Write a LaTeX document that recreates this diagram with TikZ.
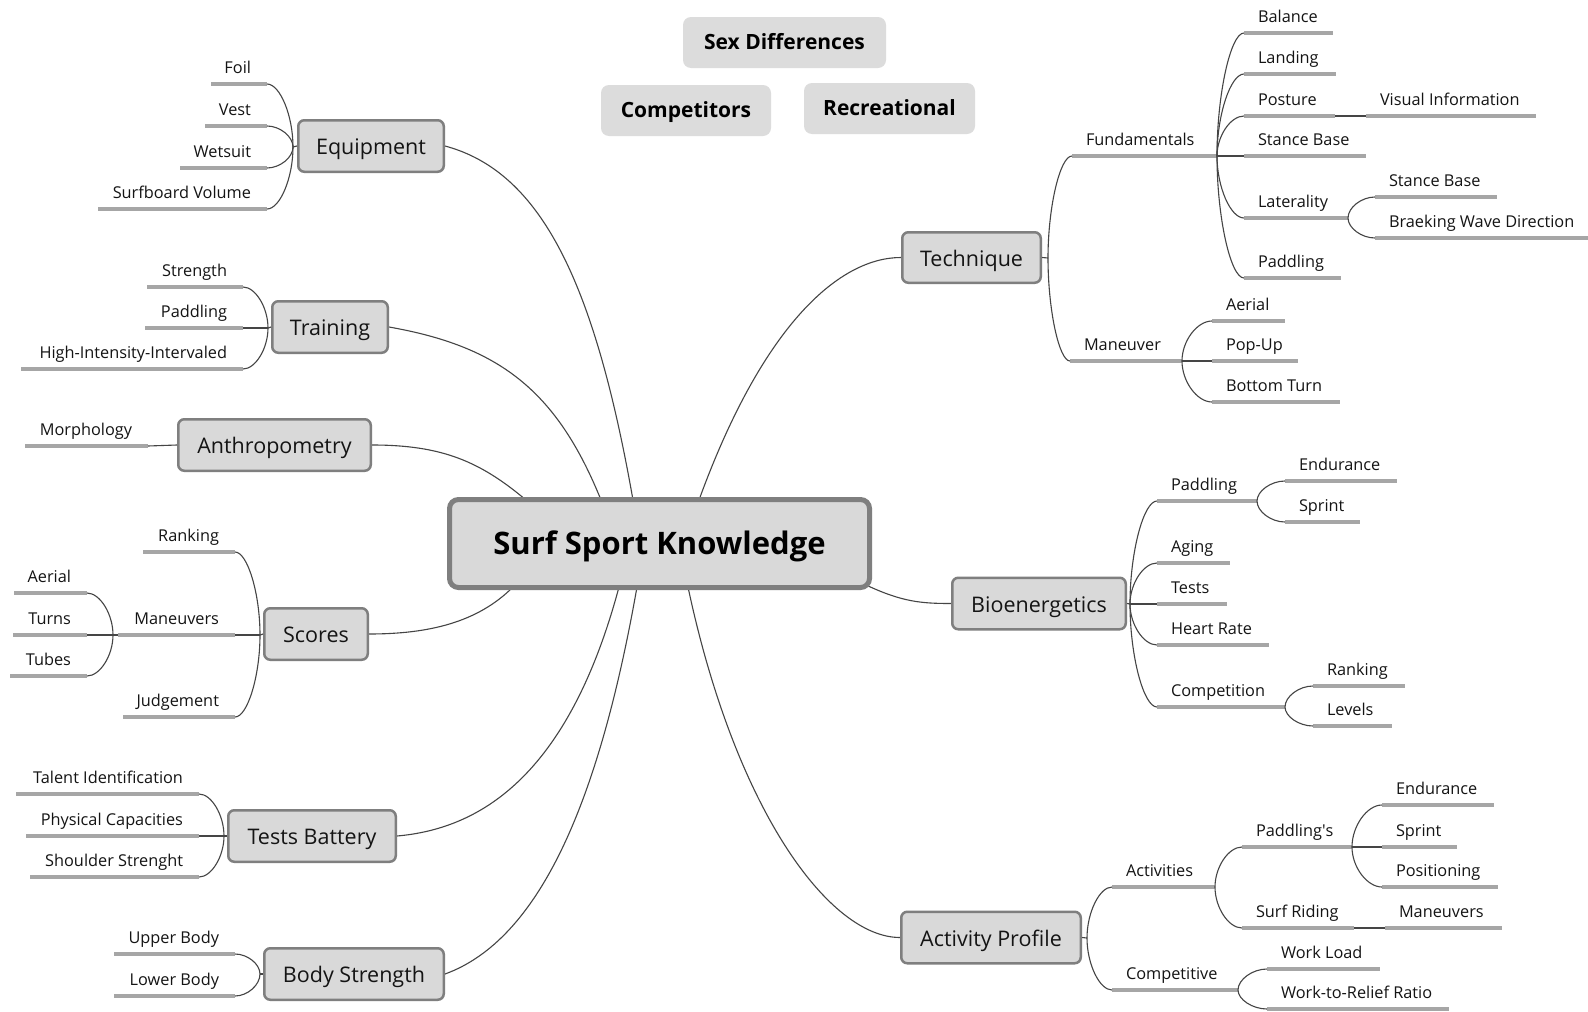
\documentclass[tikz,border=0pt]{standalone}
\usepackage{fontspec}
\setmainfont{Open Sans}
\usetikzlibrary{calc,backgrounds}
\definecolor{boxfill}{HTML}{D9D9D9}
\definecolor{boxline}{HTML}{7F7F7F}
\definecolor{floatfill}{HTML}{DCDCDC}
\definecolor{ulcol}{HTML}{A6A6A6}
\definecolor{conncol}{HTML}{454545}
\definecolor{txtcol}{HTML}{141414}
\newcommand{\fLeaf}{\fontsize{16.3}{19}\selectfont}
\newcommand{\fMain}{\fontsize{21.5}{26}\selectfont}
\newcommand{\fCenter}{\bfseries\fontsize{31}{37}\selectfont}
\newcommand{\fFloat}{\bfseries\fontsize{21}{25}\selectfont}
% right-side leaf: name, x start, y line, underline length, text
\newcommand{\leafR}[5]{%
  \node[leafr] (#1) at (#2,-#3) {#5};
  \coordinate (#1E) at ($(#1.south west)+(#4,0)$);
  \draw[uline] (#1.south west) -- (#1E);}
% left-side leaf: name, x end, y line, underline length, text
\newcommand{\leafL}[5]{%
  \node[leafl] (#1) at (#2,-#3) {#5};
  \coordinate (#1E) at ($(#1.south east)+(-#4,0)$);
  \draw[uline] (#1.south east) -- (#1E);}
\newcommand{\fanR}[2]{\draw[conn] (#1) .. controls ($(#1)!0.5!(#1 |- #2.south west)$) and ($(#2.south west)!0.5!(#1 |- #2.south west)$) .. (#2.south west);}
\newcommand{\fanL}[2]{\draw[conn] (#1) .. controls ($(#1)!0.5!(#1 |- #2.south east)$) and ($(#2.south east)!0.5!(#1 |- #2.south east)$) .. (#2.south east);}
\begin{document}
\begin{tikzpicture}[x=1pt,y=1pt,
  mainbox/.style={draw=boxline, line width=2.5pt, fill=boxfill, rounded corners=6pt,
    font=\fMain, text=txtcol, inner sep=0pt, minimum height=51.5pt,
    text height=17pt, text depth=0pt},
  centerbox/.style={draw=boxline, line width=5pt, fill=boxfill, rounded corners=9pt,
    font=\fCenter, text=black, inner sep=0pt, minimum width=420pt, minimum height=88pt,
    text height=22pt, text depth=0pt},
  floatbox/.style={fill=floatfill, rounded corners=8pt, font=\fFloat, text=black,
    inner sep=0pt, minimum height=51pt, text height=14pt, text depth=0pt},
  leafr/.style={anchor=south west, inner xsep=14pt, inner ysep=0pt, outer sep=0pt,
    text height=12pt, text depth=11pt, font=\fLeaf, text=txtcol},
  leafl/.style={anchor=south east, inner xsep=16pt, inner ysep=0pt, outer sep=0pt,
    text height=12pt, text depth=11pt, font=\fLeaf, text=txtcol},
  conn/.style={draw=conncol, line width=1.1pt},
  uline/.style={draw=ulcol, line width=3.5pt}]
\useasboundingbox (0,0) rectangle (1588,-1012);

% floating labels
\node[floatbox, minimum width=203pt] (sexdiff) at (784.5,-42.5) {Sex Differences};
\node[floatbox, minimum width=170pt] (compet0) at (686,-110.5) {Competitors};
\node[floatbox, minimum width=171pt] (recre) at (889.5,-108.5) {Recreational};

% central and main nodes
\node[centerbox] (center) at (659.5,-543.5) {Surf Sport Knowledge};
\node[mainbox, minimum width=145.5pt] (equip) at (371,-146) {Equipment};
\node[mainbox, minimum width=115.5pt] (train) at (330,-327) {Training};
\node[mainbox, minimum width=192.5pt] (anthro) at (274.5,-445) {Anthropometry};
\node[mainbox, minimum width=103.5pt] (scores) at (316,-634) {Scores};
\node[mainbox, minimum width=167.5pt] (tests) at (312,-836) {Tests Battery};
\node[mainbox, minimum width=179.5pt] (body) at (354,-974) {Body Strength};
\node[mainbox, minimum width=138.5pt, minimum height=50.5pt] (tech) at (971.5,-257.5) {Technique};
\node[mainbox, minimum width=173.5pt] (bio) at (1039,-603.5) {Bioenergetics};
\node[mainbox, minimum width=179.5pt] (actp) at (991,-937.5) {Activity Profile};

% attach points on the central node
\coordinate (cEq) at (633,-500);
\coordinate (cTr) at (601,-500);
\coordinate (cAn) at (526,-500);
\coordinate (cTe) at (699,-500);
\coordinate (cSc) at (513,-587);
\coordinate (cTB) at (619,-587);
\coordinate (cBS) at (637,-587);
\coordinate (cAP) at (688,-587);
\coordinate (cBi) at (866,-585);

\begin{scope}[on background layer]
\fill[white] (0,0) rectangle (1588,-1012);
\draw[conn] (equip.east) to[out=-15,in=100,out distance=100pt,in distance=220pt] (cEq);
\draw[conn] (train.east) to[out=-10,in=112,out distance=110pt,in distance=120pt] (cTr);
\draw[conn] (anthro.east) to[out=0,in=140,out distance=70pt,in distance=60pt] (cAn);
\draw[conn] (cTe) to[out=70,in=180,out distance=190pt,in distance=60pt] (tech.west);
\draw[conn] (scores.east) to[out=0,in=-135,out distance=60pt,in distance=50pt] (cSc);
\draw[conn] (tests.east) to[out=5,in=-105,out distance=80pt,in distance=200pt] (cTB);
\draw[conn] (body.east) to[out=20,in=-100,out distance=100pt,in distance=220pt] (cBS);
\draw[conn] (cAP) to[out=-78,in=180,out distance=230pt,in distance=70pt] (actp.west);
\draw[conn] (cBi) to[out=-25,in=180,out distance=40pt,in distance=30pt] (bio.west);
\end{scope}

% ---------- Equipment ----------
\leafL{foil}{267}{84}{56}{Foil}
\leafL{vest}{267}{126}{62}{Vest}
\leafL{wets}{267}{168}{87}{Wetsuit}
\leafL{surfv}{267}{209}{169}{Surfboard Volume}
\coordinate (jEq) at (293,-147);
\draw[conn] (equip.west) -- (jEq);
\fanL{jEq}{foil}\fanL{jEq}{vest}\fanL{jEq}{wets}\fanL{jEq}{surfv}

% ---------- Training ----------
\leafL{strength}{243}{287}{96}{Strength}
\leafL{trpad}{243}{328}{98}{Paddling}
\leafL{hiit}{243}{369}{222}{High-Intensity-Intervaled}
\coordinate (jTr) at (268,-328);
\draw[conn] (train.west) -- (jTr);
\fanL{jTr}{strength}\fanL{jTr}{trpad}\fanL{jTr}{hiit}

% ---------- Anthropometry ----------
\leafL{morph}{148}{446}{123}{Morphology}
\draw[conn] (anthro.west) -- (morph.south east);

% ---------- Scores ----------
\leafL{scrank}{235}{552}{92}{Ranking}
\leafL{scman}{235}{635}{117}{Maneuvers}
\leafL{scjudg}{235}{717}{112}{Judgement}
\coordinate (jSc) at (260,-635);
\draw[conn] (scores.west) -- (jSc);
\fanL{jSc}{scrank}\fanL{jSc}{scman}\fanL{jSc}{scjudg}
\leafL{aer}{87}{593}{73}{Aerial}
\leafL{turns}{87}{635}{74}{Turns}
\leafL{tubes}{87}{676}{77}{Tubes}
\coordinate (jMan) at (113,-635);
\draw[conn] (scmanE) -- (jMan);
\fanL{jMan}{aer}\fanL{jMan}{turns}\fanL{jMan}{tubes}

% ---------- Tests Battery ----------
\leafL{talent}{199}{794}{183}{Talent Identification}
\leafL{phys}{199}{836}{173}{Physical Capacities}
\leafL{should}{199}{877}{169}{Shoulder Strenght}
\coordinate (jTB) at (224,-836);
\draw[conn] (tests.west) -- (jTB);
\fanL{jTB}{talent}\fanL{jTB}{phys}\fanL{jTB}{should}

% ---------- Body Strength ----------
\leafL{upper}{235}{954}{121}{Upper Body}
\leafL{lower}{235}{996}{121}{Lower Body}
\coordinate (jBS) at (260,-974);
\draw[conn] (body.west) -- (jBS);
\fanL{jBS}{upper}\fanL{jBS}{lower}

% ---------- Technique ----------
\leafR{fund}{1072}{156}{145}{Fundamentals}
\leafR{tman}{1070}{361}{112}{Maneuver}
\coordinate (jTe) at (1048,-258);
\draw[conn] (tech.east) -- (jTe);
\fanR{jTe}{fund}\fanR{jTe}{tman}
\leafR{bal}{1244}{33}{89}{Balance}
\leafR{land}{1244}{74}{92}{Landing}
\leafR{post}{1244}{116}{91}{Posture}
\leafR{stance}{1244}{156}{122}{Stance Base}
\leafR{later}{1244}{218}{104}{Laterality}
\leafR{tpad}{1244}{278}{97}{Paddling}
\fanR{fundE}{bal}\fanR{fundE}{land}\fanR{fundE}{post}
\fanR{fundE}{stance}\fanR{fundE}{later}\fanR{fundE}{tpad}
\leafR{visual}{1366}{116}{170}{Visual Information}
\draw[conn] (postE) -- (visual.south west);
\leafR{stancetwo}{1375}{197}{122}{Stance Base}
\leafR{braek}{1375}{238}{220}{Braeking Wave Direction}
\fanR{laterE}{stancetwo}\fanR{laterE}{braek}
\leafR{taer}{1212}{321}{73}{Aerial}
\leafR{popup}{1212}{361}{86}{Pop-Up}
\leafR{bottom}{1212}{402}{128}{Bottom Turn}
\fanR{tmanE}{taer}\fanR{tmanE}{popup}\fanR{tmanE}{bottom}

% ---------- Bioenergetics ----------
\leafR{bpad}{1157}{501}{100}{Paddling}
\leafR{aging}{1157}{563}{73}{Aging}
\leafR{btests}{1157}{604}{70}{Tests}
\leafR{heart}{1157}{645}{112}{Heart Rate}
\leafR{bcomp}{1157}{707}{128}{Competition}
\coordinate (jBi) at (1130,-604);
\draw[conn] (bio.east) -- (jBi);
\fanR{jBi}{bpad}\fanR{jBi}{aging}\fanR{jBi}{btests}\fanR{jBi}{heart}\fanR{jBi}{bcomp}
\leafR{bend}{1285}{481}{112}{Endurance}
\leafR{bsprint}{1285}{522}{75}{Sprint}
\fanR{bpadE}{bend}\fanR{bpadE}{bsprint}
\leafR{brank}{1313}{686}{92}{Ranking}
\leafR{levels}{1313}{726}{79}{Levels}
\fanR{bcompE}{brank}\fanR{bcompE}{levels}

% ---------- Activity Profile ----------
\leafR{activ}{1112}{887}{103}{Activities}
\leafR{compet}{1112}{990}{126}{Competitive}
\coordinate (jAP) at (1087,-938);
\draw[conn] (actp.east) -- (jAP);
\fanR{jAP}{activ}\fanR{jAP}{compet}
\leafR{pads}{1242}{847}{110}{Paddling\textquotesingle s}
\leafR{surfr}{1242}{928}{112}{Surf Riding}
\fanR{activE}{pads}\fanR{activE}{surfr}
\leafR{aend}{1382}{805}{112}{Endurance}
\leafR{asprint}{1382}{847}{75}{Sprint}
\leafR{posit}{1382}{887}{116}{Positioning}
\fanR{padsE}{aend}\fanR{padsE}{asprint}\fanR{padsE}{posit}
\leafR{amanv}{1385}{928}{117}{Maneuvers}
\draw[conn] (surfrE) -- (amanv.south west);
\leafR{wload}{1267}{969}{113}{Work Load}
\leafR{wtr}{1267}{1009}{182}{Work-to-Relief Ratio}
\fanR{competE}{wload}\fanR{competE}{wtr}
\end{tikzpicture}
\end{document}
